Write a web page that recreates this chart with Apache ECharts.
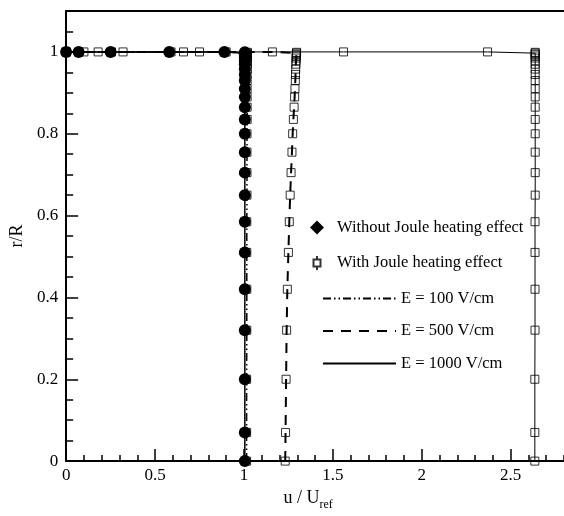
<!DOCTYPE html>
<html>
<head>
<meta charset="utf-8">
<script src="https://cdn.jsdelivr.net/npm/echarts@6/dist/echarts.min.js"></script>
<style>
html,body{margin:0;padding:0;background:#fff;}
#chart{width:564px;height:516px;}
</style>
</head>
<body>
<div id="chart"></div>
<script>
// ---- data ----
// core region: r/R values and corresponding u/Uref
const rCore = [0, 0.07, 0.2, 0.32, 0.42, 0.51, 0.585, 0.65, 0.705, 0.755, 0.8, 0.835, 0.865, 0.89, 0.91, 0.93, 0.945, 0.958, 0.97, 0.978, 0.985, 0.99, 0.994, 0.997, 0.999];
const uCoreNoJoule = [1.005, 1.005, 1.005, 1.005, 1.005, 1.005, 1.005, 1.005, 1.005, 1.005, 1.005, 1.005, 1.005, 1.005, 1.005, 1.005, 1.005, 1.005, 1.005, 1.005, 1.005, 1.005, 1.005, 1.005, 1.005];
const uCore100 = [1.015, 1.015, 1.015, 1.016, 1.016, 1.016, 1.016, 1.017, 1.017, 1.017, 1.017, 1.018, 1.018, 1.018, 1.018, 1.018, 1.018, 1.019, 1.019, 1.019, 1.019, 1.019, 1.019, 1.019, 1.019];
const uCore500 = [1.232, 1.234, 1.237, 1.24, 1.244, 1.25, 1.255, 1.26, 1.265, 1.27, 1.274, 1.278, 1.282, 1.285, 1.287, 1.289, 1.29, 1.291, 1.292, 1.293, 1.294, 1.294, 1.295, 1.295, 1.296];
const uCore1000 = [2.636, 2.636, 2.636, 2.637, 2.637, 2.637, 2.637, 2.638, 2.638, 2.638, 2.638, 2.638, 2.638, 2.638, 2.638, 2.638, 2.638, 2.638, 2.638, 2.638, 2.638, 2.638, 2.638, 2.638, 2.638];
// wall region (r/R = 1)
const rWall = [1, 1, 1, 1, 1];
const uWallNoJoule = [0.89, 0.58, 0.25, 0.07, 0];
const uWall100 = [0.9, 0.59, 0.255, 0.072, 0];
const uWall500 = [1.16, 0.75, 0.32, 0.1, 0];
const uWall1000 = [2.37, 1.56, 0.66, 0.18, 0];
// axis ticks
const xMajorTicks = [0, 0.5, 1, 1.5, 2, 2.5];
const yMajorTicks = [0, 0.2, 0.4, 0.6, 0.8, 1];

const names = {
  noJoule: 'Without Joule heating effect',
  joule: 'With Joule heating effect',
  e100: 'E = 100 V/cm',
  e500: 'E = 500 V/cm',
  e1000: 'E = 1000 V/cm'
};

function profile(uCore, uWall) {
  const pts = [];
  for (let i = 0; i < rCore.length; i++) pts.push([uCore[i], rCore[i]]);
  for (let i = 0; i < rWall.length; i++) pts.push([uWall[i], rWall[i]]);
  return pts;
}
const p100 = profile(uCore100, uWall100);
const p500 = profile(uCore500, uWall500);
const p1000 = profile(uCore1000, uWall1000);
const pNo = profile(uCoreNoJoule, uWallNoJoule);
const squares = [].concat(p100, p500, p1000);

const FONT = "'Liberation Serif', 'Times New Roman', serif";
const chart = echarts.init(document.getElementById('chart'), null, {renderer: 'canvas'});

const axisLabelStyle = {color: '#000', fontFamily: FONT, fontSize: 17};

chart.setOption({
  animation: false,
  backgroundColor: '#fff',
  grid: {left: 65, top: 11, right: -7, bottom: 43, containLabel: false},
  xAxis: [
    {
      type: 'value', min: 0, max: 2.8, interval: 0.5, position: 'bottom',
      axisLine: {show: true, lineStyle: {color: '#000', width: 2}},
      axisTick: {inside: true, length: 12, lineStyle: {color: '#000', width: 1.5},
        customValues: xMajorTicks},
      axisLabel: Object.assign({margin: 6, customValues: xMajorTicks}, axisLabelStyle),
      splitLine: {show: false},
      name: '{a|u / U}{b|ref}',
      nameLocation: 'middle', nameGap: 21,
      nameTextStyle: {
        color: '#000', fontFamily: FONT, padding: [0, 14, 0, 0],
        rich: {
          a: {fontSize: 18, fontFamily: FONT, color: '#000', verticalAlign: 'bottom', lineHeight: 20},
          b: {fontSize: 12, fontFamily: FONT, color: '#000', verticalAlign: 'bottom', lineHeight: 12, padding: [0, 0, -4, 0]}
        }
      }
    },
    {
      type: 'value', min: 0, max: 2.8, interval: 0.1, position: 'bottom',
      axisLine: {show: false},
      axisTick: {inside: true, length: 6, lineStyle: {color: '#000', width: 1.5}},
      axisLabel: {show: false},
      splitLine: {show: false}
    },
    {
      type: 'value', min: 0, max: 2.8, position: 'top',
      axisLine: {show: true, onZero: false, lineStyle: {color: '#000', width: 2}},
      axisTick: {show: false}, axisLabel: {show: false}, splitLine: {show: false}
    }
  ],
  yAxis: [
    {
      type: 'value', min: 0, max: 1.1, interval: 0.2, position: 'left',
      axisLine: {show: true, lineStyle: {color: '#000', width: 2}},
      axisTick: {inside: true, length: 12, lineStyle: {color: '#000', width: 1.5},
        customValues: yMajorTicks},
      axisLabel: Object.assign({margin: 8, customValues: yMajorTicks}, axisLabelStyle),
      splitLine: {show: false},
      name: 'r/R', nameLocation: 'middle', nameRotate: 90, nameGap: 29,
      nameTextStyle: {color: '#000', fontFamily: FONT, fontSize: 18}
    },
    {
      type: 'value', min: 0, max: 1.1, interval: 0.05, position: 'left',
      axisLine: {show: false},
      axisTick: {inside: true, length: 7, lineStyle: {color: '#000', width: 1.5}},
      axisLabel: {show: false},
      splitLine: {show: false}
    }
  ],
  legend: [
    {
      orient: 'vertical', left: 305, top: 214,
      itemWidth: 14, itemHeight: 14, itemGap: 18.5,
      textStyle: {color: '#000', fontFamily: FONT, fontSize: 16.5, padding: [0, 0, 0, 8]},
      data: [
        {name: names.noJoule, icon: 'diamond'},
        {name: names.joule, icon: 'path://M0,5H10V15H0ZM5,0V5M5,15V20'}
      ]
    },
    {
      orient: 'vertical', left: 317, top: 285,
      itemWidth: 73, itemHeight: 14, itemGap: 15.5,
      itemStyle: {opacity: 0},
      textStyle: {color: '#000', fontFamily: FONT, fontSize: 16.5},
      data: [names.e100, names.e500, names.e1000]
    }
  ],
  series: [
    {
      name: names.e100, type: 'line', data: p100, symbol: 'none',
      itemStyle: {color: '#000'},
      lineStyle: {color: '#000', width: 1.5, type: [8, 3, 1.5, 3, 1.5, 3]}, z: 2
    },
    {
      name: names.e500, type: 'line', data: p500, symbol: 'none',
      itemStyle: {color: '#000'},
      lineStyle: {color: '#000', width: 2, type: [10, 8]}, z: 2
    },
    {
      name: names.e1000, type: 'line', data: p1000, symbol: 'none',
      itemStyle: {color: '#000'},
      lineStyle: {color: '#000', width: 1}, z: 2
    },
    {
      name: names.joule, type: 'scatter', data: squares, symbol: 'rect', symbolSize: 8,
      itemStyle: {color: 'rgba(0,0,0,0)', borderColor: '#000', borderWidth: 1}, z: 3
    },
    {
      name: names.noJoule, type: 'line', data: pNo, symbol: 'circle', symbolSize: 12,
      showAllSymbol: true,
      itemStyle: {color: '#000'},
      lineStyle: {color: '#000', width: 1.5}, z: 4
    }
  ]
});
</script>
</body>
</html>
